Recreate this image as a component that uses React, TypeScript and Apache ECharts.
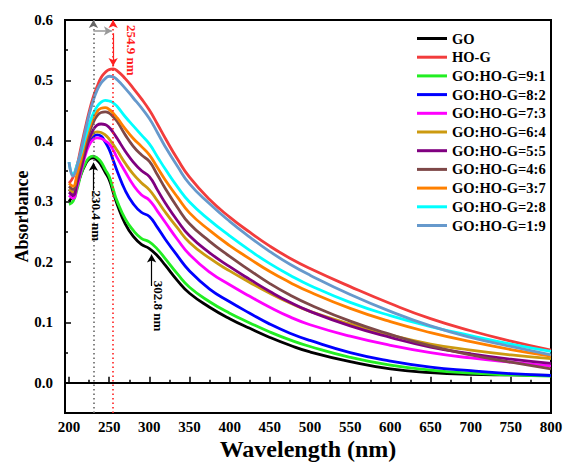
import React, { useEffect, useRef } from "react";
import * as echarts from "echarts";

const wavelengths = [200, 205, 210, 215, 220, 225, 230, 235, 240, 245, 250, 255, 260, 270, 280, 290, 300, 310, 320, 335, 350, 375, 400, 425, 450, 475, 500, 550, 600, 650, 700, 750, 800];

const GO = [0.3, 0.31, 0.325, 0.345, 0.36, 0.37, 0.372, 0.368, 0.36, 0.348, 0.336, 0.315, 0.295, 0.263, 0.242, 0.229, 0.222, 0.21, 0.194, 0.169, 0.148, 0.125, 0.106, 0.09, 0.075, 0.062, 0.051, 0.035, 0.023, 0.017, 0.014, 0.013, 0.012];
const HOG = [0.33, 0.34, 0.36, 0.39, 0.42, 0.448, 0.472, 0.49, 0.505, 0.513, 0.518, 0.519, 0.516, 0.503, 0.487, 0.47, 0.451, 0.428, 0.404, 0.37, 0.34, 0.303, 0.274, 0.249, 0.226, 0.206, 0.189, 0.159, 0.131, 0.106, 0.086, 0.069, 0.054];
const R91 = [0.295, 0.3, 0.32, 0.345, 0.362, 0.372, 0.375, 0.372, 0.365, 0.353, 0.341, 0.32, 0.3, 0.271, 0.252, 0.239, 0.233, 0.221, 0.205, 0.18, 0.158, 0.134, 0.115, 0.099, 0.084, 0.071, 0.06, 0.042, 0.029, 0.021, 0.016, 0.013, 0.011];
const R82 = [0.32, 0.315, 0.33, 0.355, 0.38, 0.398, 0.407, 0.41, 0.408, 0.398, 0.386, 0.368, 0.35, 0.318, 0.296, 0.282, 0.275, 0.257, 0.237, 0.21, 0.185, 0.155, 0.134, 0.115, 0.097, 0.082, 0.07, 0.05, 0.036, 0.026, 0.02, 0.015, 0.012];
const R73 = [0.31, 0.305, 0.325, 0.35, 0.375, 0.393, 0.402, 0.405, 0.404, 0.4, 0.395, 0.385, 0.372, 0.349, 0.327, 0.311, 0.302, 0.284, 0.265, 0.237, 0.212, 0.183, 0.162, 0.143, 0.125, 0.109, 0.096, 0.077, 0.062, 0.05, 0.041, 0.034, 0.028];
const R64 = [0.32, 0.315, 0.335, 0.36, 0.385, 0.403, 0.412, 0.415, 0.414, 0.41, 0.403, 0.394, 0.384, 0.363, 0.345, 0.331, 0.319, 0.301, 0.282, 0.256, 0.232, 0.206, 0.185, 0.166, 0.148, 0.132, 0.118, 0.097, 0.079, 0.064, 0.054, 0.046, 0.04];
const R55 = [0.315, 0.31, 0.33, 0.355, 0.38, 0.402, 0.418, 0.426, 0.428, 0.427, 0.422, 0.414, 0.404, 0.383, 0.365, 0.351, 0.341, 0.319, 0.297, 0.268, 0.243, 0.215, 0.192, 0.171, 0.151, 0.133, 0.118, 0.094, 0.075, 0.059, 0.048, 0.039, 0.032];
const R46 = [0.325, 0.32, 0.34, 0.365, 0.39, 0.413, 0.43, 0.442, 0.447, 0.448, 0.446, 0.44, 0.432, 0.41, 0.391, 0.377, 0.366, 0.344, 0.321, 0.29, 0.263, 0.234, 0.209, 0.186, 0.164, 0.145, 0.129, 0.102, 0.08, 0.061, 0.046, 0.034, 0.023];
const R37 = [0.33, 0.325, 0.345, 0.37, 0.398, 0.42, 0.438, 0.449, 0.454, 0.455, 0.452, 0.446, 0.438, 0.42, 0.404, 0.391, 0.377, 0.356, 0.335, 0.307, 0.281, 0.252, 0.227, 0.205, 0.184, 0.166, 0.15, 0.123, 0.101, 0.083, 0.068, 0.055, 0.044];
const R28 = [0.365, 0.345, 0.36, 0.38, 0.405, 0.427, 0.445, 0.457, 0.464, 0.467, 0.466, 0.463, 0.457, 0.44, 0.425, 0.41, 0.395, 0.374, 0.353, 0.324, 0.299, 0.269, 0.243, 0.219, 0.197, 0.178, 0.161, 0.133, 0.111, 0.093, 0.078, 0.064, 0.052];
const R19 = [0.365, 0.342, 0.358, 0.385, 0.415, 0.443, 0.466, 0.484, 0.496, 0.503, 0.507, 0.506, 0.501, 0.487, 0.471, 0.455, 0.437, 0.414, 0.39, 0.358, 0.329, 0.296, 0.267, 0.241, 0.217, 0.196, 0.178, 0.146, 0.118, 0.094, 0.075, 0.06, 0.046];

const seriesNames = ["GO", "HO-G", "GO:HO-G=9:1", "GO:HO-G=8:2", "GO:HO-G=7:3", "GO:HO-G=6:4", "GO:HO-G=5:5", "GO:HO-G=4:6", "GO:HO-G=3:7", "GO:HO-G=2:8", "GO:HO-G=1:9"];
const seriesValues = [GO, HOG, R91, R82, R73, R64, R55, R46, R37, R28, R19];
const seriesColors = ["#000000", "#f23c3c", "#22ee22", "#0000ff", "#ff00ff", "#cc9a10", "#800080", "#7e4848", "#ff8000", "#00ffff", "#6699cc"];

const xMajorTicks = [200, 250, 300, 350, 400, 450, 500, 550, 600, 650, 700, 750, 800];
const xMinorTicks = [225, 275, 325, 375, 425, 475, 525, 575, 625, 675, 725, 775];
const yMajorTicks = [0, 0.1, 0.2, 0.3, 0.4, 0.5, 0.6];
const yMinorTicks = [0.05, 0.15, 0.25, 0.35, 0.45, 0.55];

const peakGO = 230.4;
const peakHOG = 254.9;
const shoulderGO = 302.8;

export default function App() {
  const ref = useRef<HTMLDivElement>(null);
  useEffect(() => {
    const chart = echarts.init(ref.current!, null, { renderer: "svg" });
    const font = '"Liberation Serif", "Times New Roman", serif';
    const xRange = { min: 195, max: 800 };
    const yRange = { min: -0.05, max: 0.6 };

    const series: any[] = seriesNames.map((name, i) => ({
      name,
      type: "line",
      data: wavelengths.map((w, j) => [w, seriesValues[i][j]]),
      symbol: "none",
      showSymbol: false,
      smooth: 0.5,
      lineStyle: { color: seriesColors[i], width: 2.8 },
      itemStyle: { color: seriesColors[i] },
      emphasis: { disabled: true },
      z: 2,
    }));

    series.push({
      name: "annotations",
      type: "line",
      data: [],
      symbol: "none",
      silent: true,
      z: 5,
      markLine: {
        silent: true,
        animation: false,
        symbol: ["none", "arrow"],
        symbolSize: [7, 8],
        label: { show: false },
        emphasis: { disabled: true },
        data: [
          { xAxis: peakGO, symbol: "none", lineStyle: { color: "#666", type: [1.5, 3], width: 1.6 } },
          { xAxis: peakHOG, symbol: "none", lineStyle: { color: "#ff2020", type: [1.5, 3], width: 1.6 } },
          [
            { coord: [peakGO, 0.582], lineStyle: { color: "#999", type: "solid", width: 1.5 } },
            { coord: [peakHOG - 1.5, 0.582] },
          ],
          [
            { coord: [peakHOG, 0.578], lineStyle: { color: "#ff2020", type: "solid", width: 1.2 } },
            { coord: [peakHOG, 0.524] },
          ],
          [
            { coord: [peakGO, 0.318], lineStyle: { color: "#000", type: "solid", width: 1.2 } },
            { coord: [peakGO, 0.364] },
          ],
          [
            { coord: [shoulderGO, 0.16], lineStyle: { color: "#000", type: "solid", width: 1.2 } },
            { coord: [shoulderGO, 0.212] },
          ],
        ],
      },
      markPoint: {
        silent: true,
        animation: false,
        symbol: "circle",
        symbolSize: 0,
        itemStyle: { color: "transparent" },
        label: {
          show: true,
          position: "inside",
          rotate: -90,
          fontFamily: font,
          fontWeight: "bold",
          fontSize: 13,
          color: "#000",
        },
        data: [
          { coord: [277.2, 0.55], label: { formatter: "254.9 nm", color: "#ff1a1a" } },
          { coord: [233.8, 0.276], label: { formatter: "230.4 nm" } },
          { coord: [311.4, 0.127], label: { formatter: "302.8 nm" } },
        ],
      },
    });

    const axisLineStyle = { show: true, lineStyle: { color: "#000", width: 2 } };

    chart.setOption({
      animation: false,
      backgroundColor: "#fff",
      textStyle: { fontFamily: font },
      grid: {
        left: 65,
        right: 15,
        top: 20,
        bottom: 51,
        show: true,
        borderColor: "#000",
        borderWidth: 2,
        backgroundColor: "transparent",
        outerBoundsMode: "none",
      },
      legend: {
        data: seriesNames,
        orient: "vertical",
        left: 412,
        top: 26,
        icon: "rect",
        itemWidth: 30,
        itemHeight: 3,
        itemGap: 3.7,
        selectedMode: false,
        textStyle: { fontFamily: font, fontWeight: "bold", fontSize: 14.5, color: "#000", lineHeight: 14.5 },
      },
      xAxis: [
        {
          type: "value",
          ...xRange,
          name: "Wavelength (nm)",
          nameLocation: "middle",
          nameGap: 24,
          nameMoveOverlap: false,
          nameTextStyle: { fontFamily: font, fontWeight: "bold", fontSize: 24, color: "#000" },
          axisLine: axisLineStyle,
          axisTick: { show: true, inside: true, length: 6, customValues: xMajorTicks, lineStyle: { color: "#000", width: 1.5 } },
          axisLabel: {
            show: true,
            customValues: xMajorTicks,
            margin: 6,
            fontFamily: font,
            fontWeight: "bold",
            fontSize: 15,
            color: "#000",
          },
          splitLine: { show: false },
        },
        {
          type: "value",
          ...xRange,
          position: "bottom",
          axisLine: { show: false },
          axisTick: { show: true, inside: true, length: 3, customValues: xMinorTicks, lineStyle: { color: "#000", width: 1.5 } },
          axisLabel: { show: false },
          splitLine: { show: false },
        },
      ],
      yAxis: [
        {
          type: "value",
          ...yRange,
          name: "Absorbance",
          nameLocation: "middle",
          nameGap: 34,
          nameMoveOverlap: false,
          nameRotate: 90,
          nameTextStyle: { fontFamily: font, fontWeight: "bold", fontSize: 18, color: "#000" },
          axisLine: axisLineStyle,
          axisTick: { show: true, inside: true, length: 6, customValues: yMajorTicks, lineStyle: { color: "#000", width: 1.5 } },
          axisLabel: {
            show: true,
            customValues: yMajorTicks,
            margin: 12,
            formatter: (v: number) => v.toFixed(1),
            fontFamily: font,
            fontWeight: "bold",
            fontSize: 15,
            color: "#000",
          },
          splitLine: { show: false },
        },
        {
          type: "value",
          ...yRange,
          position: "left",
          axisLine: { show: false },
          axisTick: { show: true, inside: true, length: 3, customValues: yMinorTicks, lineStyle: { color: "#000", width: 1.5 } },
          axisLabel: { show: false },
          splitLine: { show: false },
        },
      ],
      series,
    });

    return () => chart.dispose();
  }, []);
  return <div ref={ref} style={{ position: "fixed", left: 0, top: 0, width: 566, height: 464 }} />;
}
